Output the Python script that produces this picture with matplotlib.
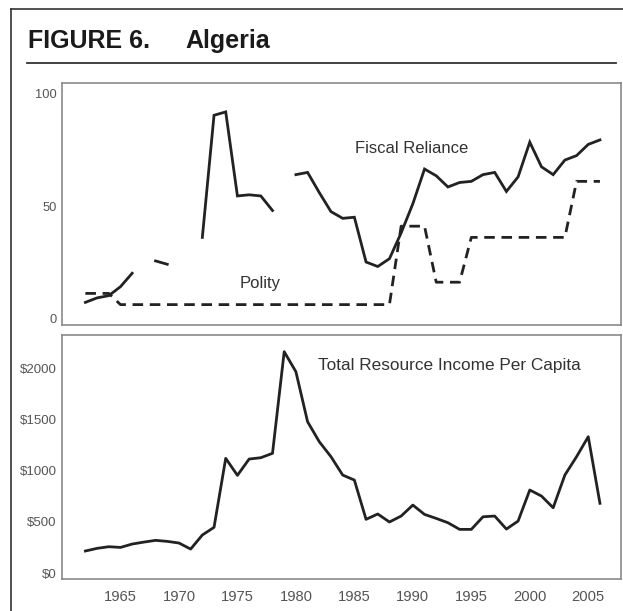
import numpy as np
import matplotlib
matplotlib.use("Agg")
import matplotlib.pyplot as plt
from matplotlib.lines import Line2D

plt.rcParams['font.family'] = ['Liberation Sans', 'DejaVu Sans']

years = list(range(1962, 2007))
nan = float('nan')

fiscal_reliance = [7, 9, 10, 14, 20, nan, 25.5, 24, nan, nan,
                   36, 90.5, 92, 54.5, 55, 54.5, 48, nan, 64, 65,
                   56, 47.5, 44.5, 45, 25, 23, 26.5, 38, 51, 66.5,
                   63.5, 58.5, 60.5, 61, 64, 65, 56.5, 63, 78.5, 67.5,
                   64, 70.5, 72.5, 77.5, 79.5]

polity = [11, 11, 11] + [6] * 24 + [41, 41, 41, 16, 16, 16] + [36] * 9 + [61, 61, 61]

income = [215, 241, 257, 250, 283, 302, 319, 309, 293, 234,
          371, 446, 1119, 953, 1112, 1125, 1168, 2159, 1964, 1476,
          1281, 1135, 956, 907, 524, 576, 498, 556, 663, 572,
          533, 491, 426, 426, 549, 556, 429, 507, 810, 751,
          637, 956, 1135, 1330, 680]

top_ticks = [0, 50, 100]
top_ticklabels = ['0', '50', '100']
bottom_ticks = [0, 500, 1000, 1500, 2000]
bottom_ticklabels = ['$0', '$500', '$1000', '$1500', '$2000']
x_ticks = [1965, 1970, 1975, 1980, 1985, 1990, 1995, 2000, 2005]

fig = plt.figure(figsize=(6.23, 6.11), dpi=100)
W, H = 623, 611

def fx(px):
    return px / W

def fy(py):
    return 1 - py / H

# outer frame lines and title rule
fig.add_artist(Line2D([fx(11), fx(11)], [fy(9), 0], color='#333333', lw=1.2))
fig.add_artist(Line2D([fx(11), 1], [fy(9), fy(9)], color='#333333', lw=1.2))
fig.add_artist(Line2D([fx(27), fx(616)], [fy(62.5), fy(62.5)], color='#333333', lw=1.3))
fig.text(fx(28), fy(48), 'FIGURE 6.', fontsize=18, fontweight='bold',
         color='#1a1a1a', ha='left', va='baseline')
fig.text(fx(185), fy(48), 'Algeria', fontsize=18, fontweight='bold',
         color='#1a1a1a', ha='left', va='baseline')

ax1 = fig.add_axes([fx(62), fy(325), fx(621) - fx(62), fy(83) - fy(325)])
ax2 = fig.add_axes([fx(62), fy(579), fx(621) - fx(62), fy(335) - fy(579)])

spine_col = '#8a8a8a'
for ax in (ax1, ax2):
    for s in ax.spines.values():
        s.set_color(spine_col)
        s.set_linewidth(1.2)
    ax.set_xlim(1960, 2007.8)
    ax.tick_params(length=0, colors='#555555')

ax1.plot(years, fiscal_reliance, color='#222222', lw=2.0, solid_joinstyle='miter')
ax1.plot(years, polity, color='#222222', lw=2.0, linestyle=(0, (3.8, 2.4)))
ax1.set_ylim(-3.1, 104.9)
ax1.set_yticks(top_ticks)
ax1.set_yticklabels(top_ticklabels, fontsize=9.3)
ax1.set_xticks([])
ax1.tick_params(axis='y', pad=4)
ax1.text(1989.9, 75.5, 'Fiscal Reliance', fontsize=12, color='#333333', ha='center', va='center')
ax1.text(1976.9, 15.5, 'Polity', fontsize=12, color='#333333', ha='center', va='center')

ax2.plot(years, income, color='#222222', lw=2.0)
ax2.set_ylim(-58, 2322)
ax2.set_yticks(bottom_ticks)
ax2.set_yticklabels(bottom_ticklabels, fontsize=9.5)
ax2.set_xticks(x_ticks)
ax2.set_xticklabels([str(y) for y in x_ticks], fontsize=10.6)
ax2.tick_params(axis='y', pad=4)
ax2.tick_params(axis='x', pad=8)
ax2.text(1993.1, 2029, 'Total Resource Income Per Capita', fontsize=12.4, color='#333333',
         ha='center', va='center')

fig.savefig('out.png', dpi=100)
